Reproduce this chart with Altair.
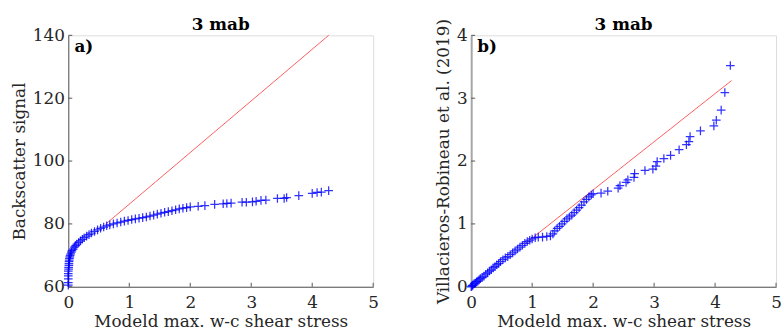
import altair as alt
import pandas as pd

# ---- Panel a: QQ pairs (modelled max w-c shear stress vs backscatter signal)
a_x = [0.0, 0.0, 0.0, 0.0, 0.0, 0.0, 0.005, 0.005, 0.01, 0.01, 0.012, 0.015, 0.02, 0.025,
       0.03, 0.04, 0.05, 0.06, 0.08, 0.10, 0.12, 0.14, 0.17, 0.20, 0.23, 0.26, 0.30, 0.34,
       0.38, 0.43, 0.48, 0.53, 0.58, 0.63, 0.68, 0.74, 0.80, 0.86, 0.92, 0.98, 1.04, 1.10,
       1.16, 1.22, 1.28, 1.34, 1.40, 1.46, 1.52, 1.58, 1.64, 1.70, 1.76, 1.82, 1.88, 1.94,
       2.00, 2.13, 2.24, 2.40, 2.54, 2.60, 2.67, 2.85, 2.92, 3.02, 3.08, 3.16, 3.24, 3.43,
       3.54, 3.58, 3.78, 4.00, 4.08, 4.15, 4.27]
a_y = [60.5, 61.3, 62.5, 63.5, 64.2, 65.0, 65.6, 66.2, 66.8, 67.4, 68.0, 68.5, 69.0, 69.5,
       70.0, 70.5, 71.0, 71.5, 72.0, 72.6, 73.1, 73.6, 74.1, 74.6, 75.1, 75.6, 76.1, 76.6,
       77.1, 77.6, 78.1, 78.6, 79.0, 79.4, 79.7, 80.0, 80.3, 80.6, 80.9, 81.1, 81.4, 81.6,
       81.8, 82.0, 82.2, 82.5, 82.8, 83.1, 83.4, 83.7, 83.9, 84.2, 84.5, 84.8, 85.0, 85.2,
       85.4, 85.6, 85.8, 86.2, 86.4, 86.5, 86.6, 86.9, 86.9, 87.0, 87.2, 87.5, 87.6, 88.1,
       88.1, 88.4, 89.0, 89.7, 90.0, 90.1, 90.6]

# ---- Panel b: QQ pairs (modelled vs Villacieros-Robineau et al. 2019)
b_x = [0.0, 0.01, 0.02, 0.03, 0.05, 0.07, 0.09, 0.11, 0.13, 0.15, 0.18, 0.21, 0.24, 0.27,
       0.30, 0.33, 0.36, 0.39, 0.42, 0.45, 0.48, 0.52, 0.56, 0.60, 0.64, 0.68, 0.72, 0.76,
       0.80, 0.84, 0.88, 0.92, 0.96, 1.00, 1.05, 1.10, 1.17, 1.24, 1.30, 1.34, 1.37, 1.41,
       1.45, 1.49, 1.53, 1.57, 1.61, 1.65, 1.69, 1.73, 1.77, 1.81, 1.85, 1.89, 1.93, 1.97,
       2.00, 2.13, 2.24, 2.41, 2.44, 2.54, 2.57, 2.67, 2.68, 2.85, 2.98, 3.03, 3.05, 3.16,
       3.27, 3.41, 3.53, 3.57, 3.59, 3.76, 3.98, 4.02, 4.10, 4.16, 4.25]
b_y = [0.0, 0.01, 0.02, 0.03, 0.05, 0.06, 0.08, 0.09, 0.11, 0.13, 0.15, 0.17, 0.20, 0.22,
       0.25, 0.27, 0.30, 0.32, 0.35, 0.37, 0.40, 0.43, 0.46, 0.48, 0.51, 0.54, 0.57, 0.60,
       0.63, 0.66, 0.69, 0.72, 0.74, 0.76, 0.78, 0.79, 0.79, 0.80, 0.81, 0.84, 0.89, 0.93,
       0.96, 1.00, 1.04, 1.08, 1.11, 1.14, 1.18, 1.22, 1.26, 1.30, 1.35, 1.39, 1.43, 1.46,
       1.48, 1.49, 1.52, 1.57, 1.61, 1.66, 1.70, 1.74, 1.80, 1.85, 1.87, 1.92, 1.99, 2.04,
       2.09, 2.18, 2.26, 2.31, 2.39, 2.48, 2.56, 2.65, 2.81, 3.09, 3.52]

# reference lines
line_a_x = [0.617, 4.27]
line_a_y = [80.0, 140.0]
line_b_x = [0.89, 4.27]
line_b_y = [0.69, 3.28]

x_ticks = [0, 1, 2, 3, 4, 5]
a_ticks = [60, 80, 100, 120, 140]
b_ticks = [0, 1, 2, 3, 4]

title_text = ["3 mab"]
x_title = "Modeld max. w-c shear stress"
a_ytitle = "Backscatter signal"
b_ytitle = "Villacieros-Robineau et al. (2019)"
a_label = ["a)"]
b_label = ["b)"]
a_label_pos = [0.1, 136.3]
b_label_pos = [0.1, 3.81]

W, H = 308, 254
FONT = "DejaVu Serif"
TXT = "#262626"
FS = 17
PLUS = "M-1,0H1M0,-1V1"


def panel(px, py, lx, ly, yticks, ydom, ytitle, lab, labpos, ydomain_color, ydomain_width):
    pts = pd.DataFrame({"x": px, "y": py})
    ln = pd.DataFrame({"x": lx, "y": ly})
    xs = alt.Scale(domain=[0, 5], nice=False)
    ys = alt.Scale(domain=ydom, nice=False)
    xaxis = alt.Axis(values=x_ticks, title=x_title, grid=False, ticks=False, labelPadding=8,
                     titlePadding=3, domainColor="#555555", labelFont=FONT, titleFont=FONT,
                     labelFontSize=FS, titleFontSize=FS, labelColor=TXT, titleColor=TXT,
                     titleFontWeight="normal", format="d", labelFlush=False)
    yaxis = alt.Axis(values=yticks, title=ytitle, grid=False, ticks=False, labelPadding=4,
                     titlePadding=4, domainColor=ydomain_color, domainWidth=ydomain_width,
                     labelFont=FONT, titleFont=FONT, labelFontSize=FS, titleFontSize=FS,
                     labelColor=TXT, titleColor=TXT, titleFontWeight="normal", format="d",
                     labelFlush=False)
    points = alt.Chart(pts).mark_point(shape=PLUS, size=76, filled=False, color="#0000ff",
                                       strokeWidth=1.25, opacity=0.8).encode(
        x=alt.X("x:Q", scale=xs, axis=xaxis),
        y=alt.Y("y:Q", scale=ys, axis=yaxis),
    )
    red = alt.Chart(ln).mark_line(color="#ff0000", strokeWidth=0.8, opacity=0.8).encode(
        x=alt.X("x:Q", scale=xs), y=alt.Y("y:Q", scale=ys))
    xt = alt.Chart(pd.DataFrame({"t": x_ticks})).mark_rule(color="#555555", strokeWidth=1).encode(
        x=alt.X("t:Q", scale=xs), y=alt.value(H), y2=alt.value(H - 4))
    yt = alt.Chart(pd.DataFrame({"t": yticks})).mark_rule(color="#555555", strokeWidth=1).encode(
        y=alt.Y("t:Q", scale=ys), x=alt.value(0), x2=alt.value(4))
    txt = alt.Chart(pd.DataFrame({"x": [labpos[0]], "y": [labpos[1]], "t": lab})).mark_text(
        font=FONT, fontSize=FS, fontWeight="bold", align="left", baseline="middle", color="#000000"
    ).encode(x=alt.X("x:Q", scale=xs), y=alt.Y("y:Q", scale=ys), text="t:N")
    ttl = alt.Chart(pd.DataFrame({"t": title_text})).mark_text(
        font=FONT, fontSize=FS, fontWeight="bold", align="center", baseline="alphabetic",
        color="#000000"
    ).encode(x=alt.value(W / 2), y=alt.value(-5), text="t:N")
    return alt.layer(xt, yt, red, points, txt, ttl).properties(width=W, height=H)


pa = panel(a_x, a_y, line_a_x, line_a_y, a_ticks, [60, 140], a_ytitle, a_label, a_label_pos,
           "#555555", 1)
pb = panel(b_x, b_y, line_b_x, line_b_y, b_ticks, [0, 4], b_ytitle, b_label, b_label_pos,
           "#a6a6a6", 2)

chart = alt.hconcat(pa, pb, spacing=99, bounds="flush").properties(
    padding={"left": 10, "top": 14, "right": 0, "bottom": 0}
).configure_view(stroke=None).configure(background="white")

chart.save("out.html", embed_options={"renderer": "svg", "actions": False})
